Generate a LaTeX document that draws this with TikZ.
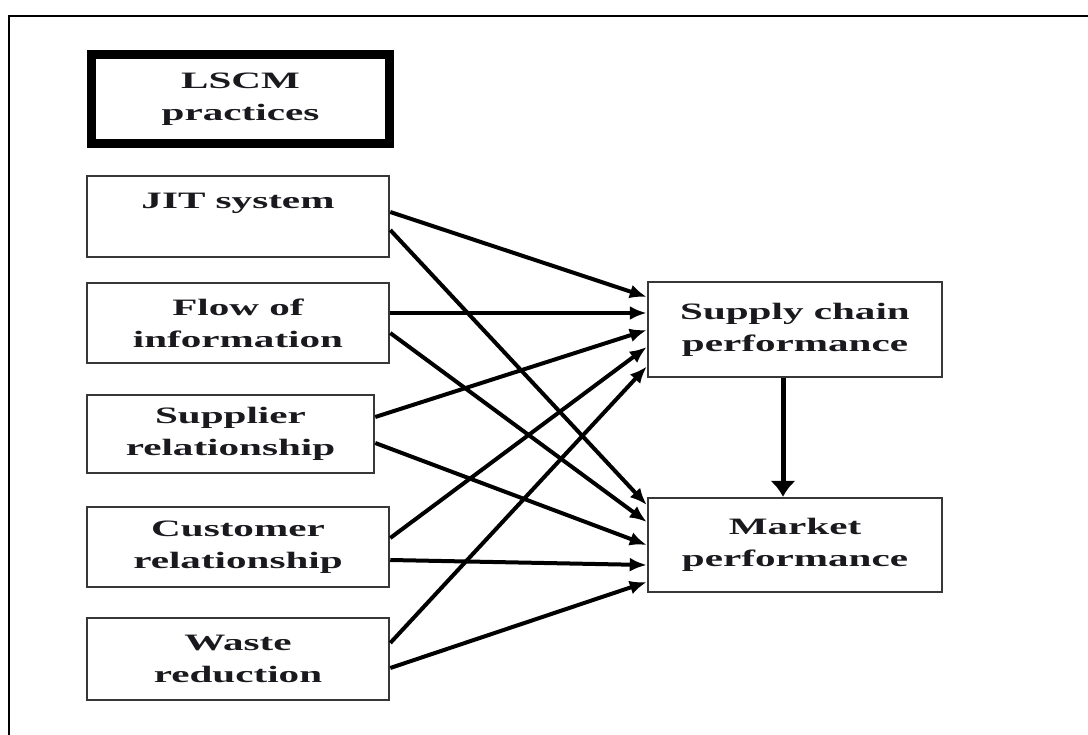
\documentclass[tikz,border=0pt]{standalone}
\usepackage{fontspec}
\newfontfamily\lblfont[FakeStretch=1.75]{Liberation Serif}
\usetikzlibrary{arrows.meta,calc}
\definecolor{inkline}{RGB}{55,55,55}
\definecolor{inktext}{RGB}{25,25,30}
\begin{document}
\begin{tikzpicture}[x=1pt,y=-1pt,
  box/.style={draw=inkline,line width=2.5pt,rectangle,inner sep=0pt,align=center,
    text=inktext,font=\lblfont\bfseries\fontsize{23.5}{32}\selectfont},
  headbox/.style={box,draw=black,line width=9pt},
  link/.style={line width=4pt,-{Latex[length=17pt,width=14pt]}},
  mainlink/.style={line width=5pt,-{Latex[length=16pt,width=26pt]}}
]
\useasboundingbox (0,0) rectangle (1088,735);

% outer frame (top and left edges)
\draw[line width=2pt,black] (9,735) -- (9,16) -- (1088,16);

% practice boxes
\node[headbox,minimum width=298pt,minimum height=89pt] (lscm) at (240.5,99) {LSCM\\practices};
\node[box,minimum width=302pt,minimum height=81pt] (jit) at (238,216.5) {JIT system\\\mbox{}};
\node[box,minimum width=302pt,minimum height=80pt] (flow) at (238,323) {Flow of\\information};
\node[box,minimum width=287pt,minimum height=78pt] (supp) at (230.5,434) {Supplier\\relationship};
\node[box,minimum width=302pt,minimum height=80pt] (cust) at (238,547) {Customer\\relationship};
\node[box,minimum width=302pt,minimum height=82pt] (waste) at (238,659) {Waste\\reduction};

% outcome boxes
\node[box,minimum width=294pt,minimum height=95pt] (scp) at (795,329.5) {Supply chain\\performance};
\node[box,minimum width=294pt,minimum height=94pt] (mkt) at (795,545) {Market\\performance};

% links to supply chain performance
\draw[link] ([yshift=4.5pt]jit.east) -- ([yshift=32.5pt]scp.west);
\draw[link] ([yshift=10pt]flow.east) -- ([yshift=16.5pt]scp.west);
\draw[link] ([yshift=17pt]supp.east) -- ([yshift=-0.5pt]scp.west);
\draw[link] ([yshift=9pt]cust.east) -- ([yshift=-17.5pt]scp.west);
\draw[link] ([yshift=16pt]waste.east) -- ([yshift=-37pt]scp.west);

% links to market performance
\draw[link] ([yshift=-13.5pt]jit.east) -- ([yshift=40pt]mkt.west);
\draw[link] ([yshift=-10pt]flow.east) -- ([yshift=23pt]mkt.west);
\draw[link] ([yshift=-9pt]supp.east) -- ([yshift=0pt]mkt.west);
\draw[link] ([yshift=-13pt]cust.east) -- ([yshift=-20pt]mkt.west);
\draw[link] ([yshift=-9pt]waste.east) -- ([yshift=-37pt]mkt.west);

% supply chain performance drives market performance
\draw[mainlink] ([xshift=-12pt]scp.south) -- ([xshift=-12pt]mkt.north);
\end{tikzpicture}
\end{document}
